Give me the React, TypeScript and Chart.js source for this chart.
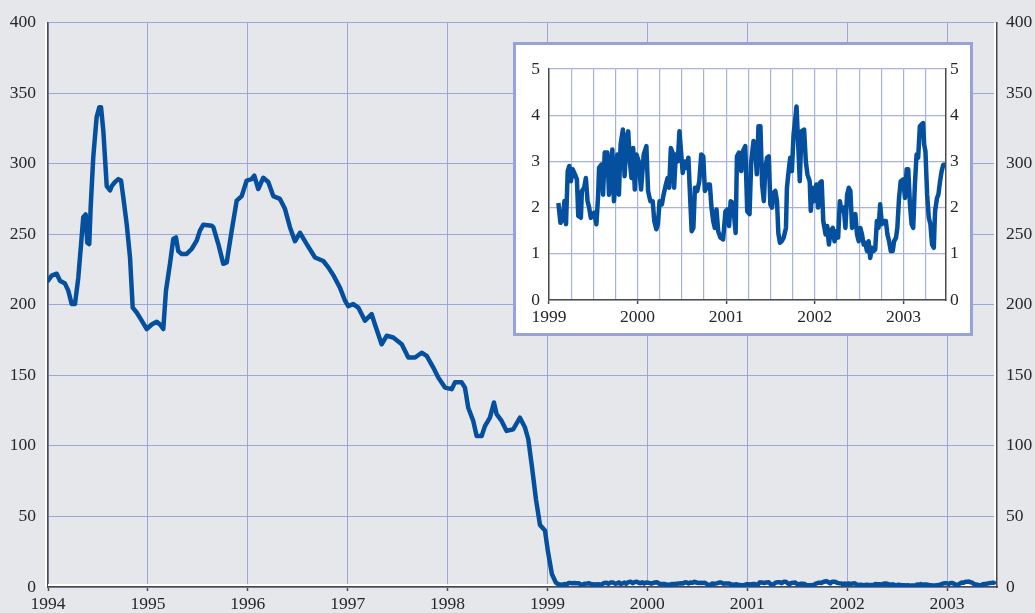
import React, { useEffect, useRef } from 'react';
import { Chart, registerables } from 'chart.js';

Chart.register(...registerables);

// ---------- DATA ----------
const mainXTicks = [1994, 1995, 1996, 1997, 1998, 1999, 2000, 2001, 2002, 2003];
const mainYTicks = [0, 50, 100, 150, 200, 250, 300, 350, 400];
const insetXTicks = [1999, 2000, 2001, 2002, 2003];
const insetQuarterTicks = [
  1999.25, 1999.5, 1999.75, 2000.25, 2000.5, 2000.75, 2001.25, 2001.5, 2001.75,
  2002.25, 2002.5, 2002.75, 2003.25,
];
const insetYTicks = [0, 1, 2, 3, 4, 5];

// 1994 – early 1999 (main chart only)
const mainYears = [
  1994.0, 1994.037, 1994.087, 1994.12, 1994.17, 1994.203, 1994.237, 1994.27, 1994.303, 1994.337,
  1994.353, 1994.377, 1994.393, 1994.413, 1994.427, 1994.453, 1994.487, 1994.514, 1994.531, 1994.554,
  1994.588, 1994.621, 1994.638, 1994.671, 1994.704, 1994.731, 1994.754, 1994.788, 1994.821, 1994.848,
  1994.888, 1994.938, 1994.988, 1995.038, 1995.088, 1995.121, 1995.154, 1995.181, 1995.221, 1995.254,
  1995.281, 1995.304, 1995.338, 1995.388, 1995.438, 1995.488, 1995.521, 1995.555, 1995.639, 1995.655,
  1995.705, 1995.755, 1995.789, 1995.839, 1995.889, 1995.939, 1995.989, 1996.039, 1996.065, 1996.105,
  1996.155, 1996.205, 1996.255, 1996.322, 1996.372, 1996.422, 1996.472, 1996.522, 1996.59, 1996.673,
  1996.756, 1996.806, 1996.856, 1996.923, 1996.973, 1997.006, 1997.056, 1997.106, 1997.173, 1997.24,
  1997.273, 1997.34, 1997.39, 1997.456, 1997.541, 1997.607, 1997.674, 1997.741, 1997.791, 1997.857,
  1997.907, 1997.974, 1998.041, 1998.074, 1998.141, 1998.174, 1998.207, 1998.257, 1998.291, 1998.341,
  1998.374, 1998.424, 1998.464, 1998.491, 1998.541, 1998.591, 1998.658, 1998.725, 1998.775, 1998.808,
  1998.845, 1998.885, 1998.925, 1998.975, 1999.005, 1999.045, 1999.085,
];
const mainValues = [
  217, 220.6, 222, 217, 215, 210, 200.5, 200.5, 219, 248,
  262, 264, 244, 243, 269, 304.5, 333, 340, 340, 323,
  284, 281, 284, 287, 289, 288, 276, 257, 233.5, 198,
  194.5, 188.7, 182.8, 186, 188, 186, 182.8, 210, 229, 246.6,
  247.7, 238, 236, 236, 239.5, 245.4, 252.5, 256.7, 256, 255,
  243, 229, 230, 252.5, 273.8, 277, 288, 289, 291.5, 282,
  290, 287, 277, 275, 268, 255, 245, 251, 243, 233.5,
  231, 226.5, 221, 212, 203, 199, 200.5, 198, 188.7, 193.4,
  186, 172, 178, 176.8, 172, 162.6, 162.6, 166, 163.8, 155.5,
  148.4, 141.3, 140.2, 145, 145, 141.3, 127, 117.7, 107, 107,
  114, 120, 130.7, 122.5, 117.7, 110.6, 111.8, 120, 113, 104.7,
  85, 62, 44, 40, 25, 9, 3,
];

// 1999 – mid 2003 (inset, also the tail of the main chart)
const insetYears = [
  1999.106, 1999.129, 1999.155, 1999.174, 1999.192, 1999.211, 1999.229, 1999.248, 1999.267, 1999.293,
  1999.315, 1999.33, 1999.36, 1999.371, 1999.397, 1999.416, 1999.435, 1999.453, 1999.472, 1999.509,
  1999.535, 1999.554, 1999.565, 1999.591, 1999.61, 1999.629, 1999.659, 1999.677, 1999.696, 1999.715,
  1999.733, 1999.752, 1999.771, 1999.789, 1999.808, 1999.834, 1999.853, 1999.875, 1999.894, 1999.912,
  1999.931, 1999.95, 1999.968, 1999.987, 2000.013, 2000.039, 2000.069, 2000.099, 2000.118, 2000.144,
  2000.17, 2000.188, 2000.211, 2000.229, 2000.248, 2000.274, 2000.293, 2000.319, 2000.338, 2000.356,
  2000.375, 2000.394, 2000.412, 2000.431, 2000.453, 2000.472, 2000.491, 2000.509, 2000.532, 2000.554,
  2000.573, 2000.591, 2000.61, 2000.629, 2000.647, 2000.673, 2000.696, 2000.718, 2000.741, 2000.759,
  2000.778, 2000.797, 2000.815, 2000.834, 2000.853, 2000.871, 2000.89, 2000.909, 2000.935, 2000.965,
  2000.991, 2001.013, 2001.032, 2001.05, 2001.076, 2001.106, 2001.121, 2001.144, 2001.17, 2001.188,
  2001.215, 2001.237,
  2001.263, 2001.282, 2001.308, 2001.326, 2001.345, 2001.364, 2001.386, 2001.405, 2001.424, 2001.442,
  2001.461, 2001.48, 2001.498, 2001.517, 2001.536, 2001.554, 2001.573, 2001.588, 2001.606, 2001.625,
  2001.648, 2001.674, 2001.685, 2001.704, 2001.722, 2001.741, 2001.76, 2001.778, 2001.793, 2001.812,
  2001.83, 2001.849, 2001.879, 2001.898, 2001.916, 2001.942, 2001.954, 2001.972, 2001.991, 2002.017,
  2002.036, 2002.058, 2002.077, 2002.095, 2002.121, 2002.14, 2002.159, 2002.177, 2002.203, 2002.222,
  2002.241, 2002.263, 2002.282, 2002.301, 2002.326, 2002.345, 2002.364, 2002.383, 2002.401, 2002.42,
  2002.439, 2002.457, 2002.476, 2002.495, 2002.513, 2002.532, 2002.551, 2002.569, 2002.588, 2002.607,
  2002.625, 2002.644, 2002.663, 2002.681, 2002.7, 2002.719, 2002.737, 2002.756, 2002.775, 2002.801,
  2002.819, 2002.838, 2002.857, 2002.879, 2002.894, 2002.916, 2002.931, 2002.95, 2002.969, 2002.998,
  2003.017, 2003.036, 2003.054, 2003.073, 2003.092, 2003.11, 2003.129, 2003.148, 2003.166, 2003.185,
  2003.204, 2003.222, 2003.233, 2003.248, 2003.267, 2003.286, 2003.304, 2003.323, 2003.342, 2003.357,
  2003.379, 2003.394, 2003.413, 2003.431, 2003.45, 2003.469,
];
const insetValues = [
  2.1, 1.67, 1.74, 2.14, 1.64, 2.79, 2.9, 2.57, 2.83, 2.72,
  2.61, 1.82, 1.78, 2.36, 2.43, 2.64, 2.14, 2.0, 1.78, 1.89,
  1.64, 2.25, 2.86, 2.93, 2.28, 3.19, 3.19, 2.28, 2.57, 3.26,
  2.14, 2.64, 3.15, 2.28, 3.37, 3.69, 2.68, 3.51, 3.65, 3.0,
  2.64, 3.29, 2.39, 3.15, 3.0, 2.39, 3.15, 3.33, 2.36, 2.14,
  2.14, 1.71, 1.53, 1.64, 2.14, 2.07, 2.28, 2.5, 2.64, 2.43,
  3.29, 3.19, 2.43, 3.15, 3.0, 3.65, 3.19, 2.75, 3.0, 2.86,
  3.08, 2.28, 1.49, 1.56, 2.43, 2.36, 2.57, 3.15, 3.11, 2.36,
  2.43, 2.5, 2.5, 2.0, 1.71, 1.56, 1.96, 1.49, 1.35, 1.31,
  1.92, 1.96, 1.6, 2.14, 2.1, 1.45, 3.11, 3.19, 2.79, 3.22,
  3.33, 1.92,
  1.86, 3.0, 3.44, 3.29, 2.72, 3.76, 3.76, 2.5, 2.14, 2.86,
  3.08, 3.11, 2.07, 2.0, 2.32, 2.36, 2.14, 1.45, 1.24, 1.27,
  1.35, 1.56, 2.43, 2.79, 3.08, 2.79, 3.58, 3.9, 4.19, 3.37,
  2.57, 3.65, 3.69, 3.0, 2.72, 2.57, 1.93, 2.43, 2.14, 2.5,
  2.0, 2.54, 2.57, 1.71, 1.42, 1.6, 1.2, 1.49, 1.56, 1.27,
  1.49, 1.35, 2.14, 1.93, 2.0, 1.56, 2.28, 2.43, 2.36, 1.56,
  1.78, 1.86, 1.42, 1.27, 1.56, 1.42, 1.2, 1.24, 1.06, 1.27,
  0.91, 1.13, 1.06, 1.09, 1.71, 1.56, 2.07, 1.64, 1.71, 1.71,
  1.42, 1.27, 1.06, 1.06, 1.27, 1.35, 1.56, 2.21, 2.57, 2.61,
  2.21, 2.83, 2.83, 2.07, 1.64, 1.56, 2.5, 3.15, 3.08, 3.76,
  3.8, 3.83, 3.37, 3.22, 2.28, 1.78, 1.64, 1.2, 1.13, 1.93,
  2.21, 2.28, 2.57, 2.79, 2.93, 2.93,
];

// ---------- STYLE ----------
const FONT = "'Liberation Serif', 'Times New Roman', serif";
const TEXT = '#262626';
const AXIS = '#4a4a4a';
const GRID_MAIN = '#9ba7db';
const GRID_INSET = '#a9b2de';
const LINE = '#05509e';
const BG = '#e6e7ea';

function pairs(xs: number[], ys: number[]) {
  const n = Math.min(xs.length, ys.length);
  const out: { x: number; y: number }[] = [];
  for (let i = 0; i < n; i++) out.push({ x: xs[i], y: ys[i] });
  return out;
}

const bevel = {
  id: 'bevel',
  beforeDatasetsDraw(chart: any) {
    const { ctx, chartArea } = chart;
    const { left, right, top, bottom } = chartArea;
    ctx.save();
    ctx.strokeStyle = '#ffffff';
    ctx.lineWidth = 2;
    ctx.beginPath();
    ctx.moveTo(left - 2, top);
    ctx.lineTo(left - 2, bottom);
    ctx.moveTo(left, bottom - 2);
    ctx.lineTo(right - 2, bottom - 2);
    ctx.lineTo(right - 2, top);
    ctx.stroke();
    ctx.restore();
  },
};

export default function App() {
  const mainRef = useRef<HTMLCanvasElement>(null);
  const insetRef = useRef<HTMLCanvasElement>(null);

  useEffect(() => {
    document.body.style.margin = '0';
    const font = { family: FONT, size: 17.5 };

    const mainData = pairs(mainYears, mainValues).concat(pairs(insetYears, insetValues));

    const main = new Chart(mainRef.current as HTMLCanvasElement, {
      type: 'line',
      data: {
        datasets: [
          {
            data: mainData,
            borderColor: LINE,
            borderWidth: 4.5,
            pointRadius: 0,
            tension: 0,
            borderJoinStyle: 'round',
            borderCapStyle: 'round',
          } as any,
        ],
      },
      options: {
        animation: false,
        responsive: false,
        maintainAspectRatio: false,
        events: [],
        layout: { padding: { top: 22, left: 0, right: 0, bottom: 0 } },
        plugins: { legend: { display: false }, tooltip: { enabled: false } },
        scales: {
          x: {
            type: 'linear',
            min: 1994,
            max: 2003.5,
            afterBuildTicks: (s: any) => {
              s.ticks = mainXTicks.map((v) => ({ value: v }));
            },
            afterFit: (s: any) => {
              s.height = 26;
            },
            grid: { color: GRID_MAIN, lineWidth: 1, drawTicks: true, tickLength: 4, tickColor: AXIS, tickWidth: 1.5 },
            border: { display: true, color: AXIS, width: 1.5 },
            ticks: { font, color: TEXT, padding: 3, maxRotation: 0, autoSkip: false, callback: (v: any) => String(v) },
          },
          y: {
            position: 'left',
            min: 0,
            max: 400,
            afterBuildTicks: (s: any) => {
              s.ticks = mainYTicks.map((v) => ({ value: v }));
            },
            afterFit: (s: any) => {
              s.width = 48;
            },
            grid: { color: GRID_MAIN, lineWidth: 1, drawTicks: false },
            border: { display: true, color: AXIS, width: 1.5 },
            ticks: { font, color: TEXT, padding: 12, callback: (v: any) => String(v) },
          },
          y2: {
            position: 'right',
            min: 0,
            max: 400,
            afterBuildTicks: (s: any) => {
              s.ticks = mainYTicks.map((v) => ({ value: v }));
            },
            afterFit: (s: any) => {
              s.width = 38;
            },
            grid: { drawOnChartArea: false, drawTicks: false },
            border: { display: true, color: AXIS, width: 1.5 },
            ticks: { font, color: TEXT, padding: 9, callback: (v: any) => String(v) },
          },
        },
      } as any,
      plugins: [bevel],
    });

    const insetGrid = insetXTicks.concat(insetQuarterTicks).sort((a, b) => a - b);

    const inset = new Chart(insetRef.current as HTMLCanvasElement, {
      type: 'line',
      data: {
        datasets: [
          {
            data: pairs(insetYears, insetValues),
            borderColor: LINE,
            borderWidth: 4.5,
            pointRadius: 0,
            tension: 0,
            borderJoinStyle: 'round',
          } as any,
        ],
      },
      options: {
        animation: false,
        responsive: false,
        maintainAspectRatio: false,
        events: [],
        layout: { padding: { top: 24, left: 0, right: 0, bottom: 0 } },
        plugins: { legend: { display: false }, tooltip: { enabled: false } },
        scales: {
          x: {
            type: 'linear',
            min: 1999,
            max: 2003.48,
            afterBuildTicks: (s: any) => {
              s.ticks = insetGrid.map((v) => ({ value: v }));
            },
            afterFit: (s: any) => {
              s.height = 33;
            },
            grid: {
              color: GRID_INSET,
              lineWidth: 1.2,
              drawTicks: true,
              tickLength: 4,
              tickWidth: 1.5,
              tickColor: (ctx: any) =>
                ctx.tick && insetXTicks.indexOf(ctx.tick.value) >= 0 ? AXIS : 'rgba(0,0,0,0)',
            },
            border: { display: true, color: AXIS, width: 1.5 },
            ticks: {
              font,
              color: TEXT,
              padding: 3,
              maxRotation: 0,
              autoSkip: false,
              callback: (v: any) => (insetXTicks.indexOf(v) >= 0 ? String(v) : ''),
            },
          },
          y: {
            position: 'left',
            min: 0,
            max: 5,
            afterBuildTicks: (s: any) => {
              s.ticks = insetYTicks.map((v) => ({ value: v }));
            },
            afterFit: (s: any) => {
              s.width = 33;
            },
            grid: { color: GRID_INSET, lineWidth: 1.2, drawTicks: false },
            border: { display: true, color: AXIS, width: 1.5 },
            ticks: { font, color: TEXT, padding: 9, callback: (v: any) => String(v) },
          },
          y2: {
            position: 'right',
            min: 0,
            max: 5,
            afterBuildTicks: (s: any) => {
              s.ticks = insetYTicks.map((v) => ({ value: v }));
            },
            afterFit: (s: any) => {
              s.width = 24;
            },
            grid: { drawOnChartArea: false, drawTicks: false },
            border: { display: true, color: AXIS, width: 1.5 },
            ticks: { font, color: TEXT, padding: 4, callback: (v: any) => String(v) },
          },
        },
      } as any,
    });

    return () => {
      main.destroy();
      inset.destroy();
    };
  }, []);

  return (
    <div style={{ position: 'relative', width: 1035, height: 613, background: BG, overflow: 'hidden' }}>
      <canvas ref={mainRef} width={1035} height={613} style={{ position: 'absolute', left: 0, top: 0, display: 'block' }} />
      <div
        style={{
          position: 'absolute',
          left: 513,
          top: 42,
          width: 460,
          height: 294,
          boxSizing: 'border-box',
          border: '3px solid #97a3d6',
          background: '#ffffff',
        }}
      >
        <canvas ref={insetRef} width={454} height={288} style={{ display: 'block' }} />
      </div>
    </div>
  );
}
